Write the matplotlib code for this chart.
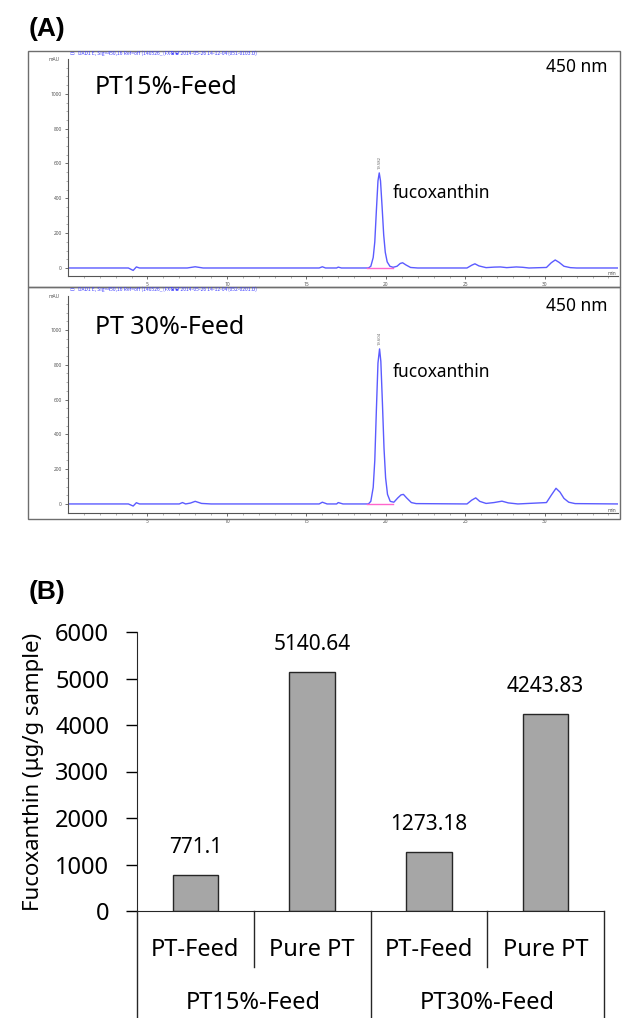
import matplotlib
matplotlib.use("Agg")
import matplotlib.pyplot as plt
from matplotlib.patches import Rectangle
from matplotlib.lines import Line2D

plt.rcParams['font.family'] = ['Noto Sans', 'Noto Sans CJK KR', 'DejaVu Sans']

W, H = 625, 1018

# --- chromatogram traces (time in min, signal in mAU) ---
t15 = [0, 3.8, 4.1, 4.3, 4.5, 7.5, 8.0, 8.5, 15.8, 16.0, 16.2, 16.9, 17.0, 17.2,
       18.9, 19.05, 19.2, 19.3, 19.4, 19.5, 19.58, 19.66, 19.76, 19.86, 19.96, 20.08,
       20.25, 20.45, 20.7, 20.9, 21.05, 21.25, 21.55, 22.0, 25.1, 25.4, 25.6, 25.85,
       26.3, 26.8, 27.2, 27.6, 28.2, 28.6, 29.0, 30.1, 30.4, 30.65, 30.9, 31.2, 31.6,
       32.0, 34.6]
y15 = [0, 0, -14, 6, 0, 0, 7, 0, 0, 7, 0, 0, 5, 0,
       0, 10, 60, 150, 330, 500, 546, 500, 350, 190, 90, 35,
       10, 4, 10, 26, 30, 18, 3, 0, 0, 16, 24, 12,
       2, 5, 6, 2, 6, 4, 0, 3, 30, 46, 32, 10, 2,
       0, 0]

t30 = [0, 3.8, 4.1, 4.3, 4.5, 7.0, 7.2, 7.4, 7.7, 8.0, 8.4, 9.0, 15.8, 16.0, 16.3,
       16.9, 17.0, 17.3, 18.9, 19.05, 19.2, 19.3, 19.4, 19.5, 19.6, 19.68, 19.78,
       19.88, 19.98, 20.1, 20.27, 20.5, 20.75, 20.95, 21.1, 21.3, 21.6, 21.9, 25.1,
       25.4, 25.65, 25.9, 26.3, 26.8, 27.3, 27.7, 28.3, 30.1, 30.4, 30.7, 30.95, 31.2,
       31.5, 31.9, 34.6]
y30 = [0, 0, -12, 7, 0, 0, 8, 0, 5, 15, 3, 0, 0, 10, 0,
       0, 8, 0, 0, 15, 95, 250, 540, 810, 891, 820, 580,
       320, 150, 55, 15, 10, 35, 52, 55, 35, 8, 2, 0,
       22, 35, 15, 3, 8, 16, 6, 0, 8, 50, 90, 68, 32,
       10, 2, 0]

# --- bar chart data ---
groups = ['PT15%-Feed', 'PT30%-Feed']
samples = ['PT-Feed', 'Pure PT', 'PT-Feed', 'Pure PT']
content = [771.1, 5140.64, 1273.18, 4243.83]
content_labels = ['771.1', '5140.64', '1273.18', '4243.83']


def px(l, t, r, b):
    return [l / W, 1 - b / H, (r - l) / W, (b - t) / H]


fig = plt.figure(figsize=(W / 100, H / 100), dpi=100)

fig.text(29 / W, 1 - 29 / H, '(A)', fontsize=19, fontweight='bold',
         family='Liberation Sans', va='center', ha='left')
fig.text(29 / W, 1 - 592 / H, '(B)', fontsize=19, fontweight='bold',
         family='Liberation Sans', va='center', ha='left')

header15 = 'DAD1 E, Sig=450,16 Ref=off (140526_\\FX정량 2014-05-26 14-12-04\\051-0103.D)'
header30 = 'DAD1 E, Sig=450,16 Ref=off (140526_\\FX정량 2014-05-26 14-12-04\\052-0201.D)'

panels = [
    (t15, y15, (51, 287), (59, 276), (-46, 1200), 'PT15%-Feed', 88, 193, header15, '19.582'),
    (t30, y30, (287, 519), (296, 513), (-52, 1195), 'PT 30%-Feed', 327, 372, header30, '19.604'),
]

for tt, yy, (ft, fb), (at, ab), ylim, name, name_y, fx_y, header, rt in panels:
    fig.patches.append(Rectangle((28 / W, 1 - fb / H), (620 - 28) / W, (fb - ft) / H,
                                 transform=fig.transFigure, fill=False,
                                 edgecolor='#6e6e6e', linewidth=1.0))
    ax = fig.add_axes(px(68, at, 618, ab))
    ax.plot(tt, yy, color='#5b5bff', linewidth=1.0)
    ax.plot([18.8, 20.45], [0, 0], color='#ff66cc', linewidth=1.0)
    ax.set_xlim(0, 34.6)
    ax.set_ylim(*ylim)
    ax.set_xticks([5, 10, 15, 20, 25, 30])
    ax.set_xticks(range(1, 35), minor=True)
    ax.set_yticks([0, 200, 400, 600, 800, 1000])
    ax.set_yticks(range(0, 1200, 50), minor=True)
    ax.tick_params(labelsize=3.5, colors='#555555', length=2.5, width=0.6, pad=2)
    ax.tick_params(which='minor', length=1.5, width=0.4, colors='#777777')
    for s in ['top', 'right']:
        ax.spines[s].set_visible(False)
    for s in ['left', 'bottom']:
        ax.spines[s].set_color('#555555')
        ax.spines[s].set_linewidth(0.8)
    ax.text(-0.5, ylim[1], 'mAU', fontsize=3.5, color='#555555', ha='right', va='center')
    ax.text(34.5, ylim[0], 'min', fontsize=3.5, color='#555555', ha='right', va='bottom')
    peak = max(yy)
    ax.text(tt[yy.index(peak)], peak + 20, rt, rotation=90, fontsize=3,
            color='#666666', ha='center', va='bottom')

    fig.text(95 / W, 1 - name_y / H, name, fontsize=18, va='center', ha='left')
    fig.text(607 / W, 1 - (name_y - 21) / H, '450 nm', fontsize=12.5, va='center', ha='right')
    fig.text(393 / W, 1 - fx_y / H, 'fucoxanthin', fontsize=12.5, va='center', ha='left')
    fig.text(70 / W, 1 - (ft + 2.5) / H, '\u25ad   ' + header, fontsize=3.6, color='#4040ff',
             va='center', ha='left', family=['Noto Sans CJK KR', 'DejaVu Sans'])

# --- panel B: bar chart ---
bx = fig.add_axes(px(137, 632, 604, 911))
pos = list(range(len(content)))
bx.bar(pos, content, width=0.39, color='#a6a6a6', edgecolor='#262626', linewidth=1.0)
for p, v, lab in zip(pos, content, content_labels):
    bx.annotate(lab, (p, v), xytext=(0, 12), textcoords='offset points',
                ha='center', va='bottom', fontsize=15)
bx.set_xlim(-0.5, 3.5)
bx.set_ylim(0, 6000)
bx.set_yticks(range(0, 6001, 1000))
bx.set_xticks([])
bx.tick_params(axis='y', labelsize=17, length=8, width=1, pad=12, direction='out')
for s in ['top', 'right']:
    bx.spines[s].set_visible(False)
bx.spines['left'].set_color('#262626')
bx.spines['bottom'].set_color('#262626')
bx.set_ylabel('Fucoxanthin (μg/g sample)', fontsize=16)
bx.yaxis.set_label_coords(-0.2, 0.5)

# category axis below the bars, drawn as an Excel-style grouped table
for p, s in zip(pos, samples):
    bx.text(p, -0.14, s, transform=bx.get_xaxis_transform(), ha='center', va='center',
            fontsize=17)
for gi, g in enumerate(groups):
    bx.text(2 * gi + 0.5, -0.33, g, transform=bx.get_xaxis_transform(), ha='center',
            va='center', fontsize=17)
for xline, ybot in [(-0.5, -0.41), (0.5, -0.2), (1.5, -0.41), (2.5, -0.2), (3.5, -0.41)]:
    bx.add_line(Line2D([xline, xline], [0, ybot], transform=bx.get_xaxis_transform(),
                       color='#262626', linewidth=1.0, clip_on=False))

fig.savefig('out.png', dpi=100)
